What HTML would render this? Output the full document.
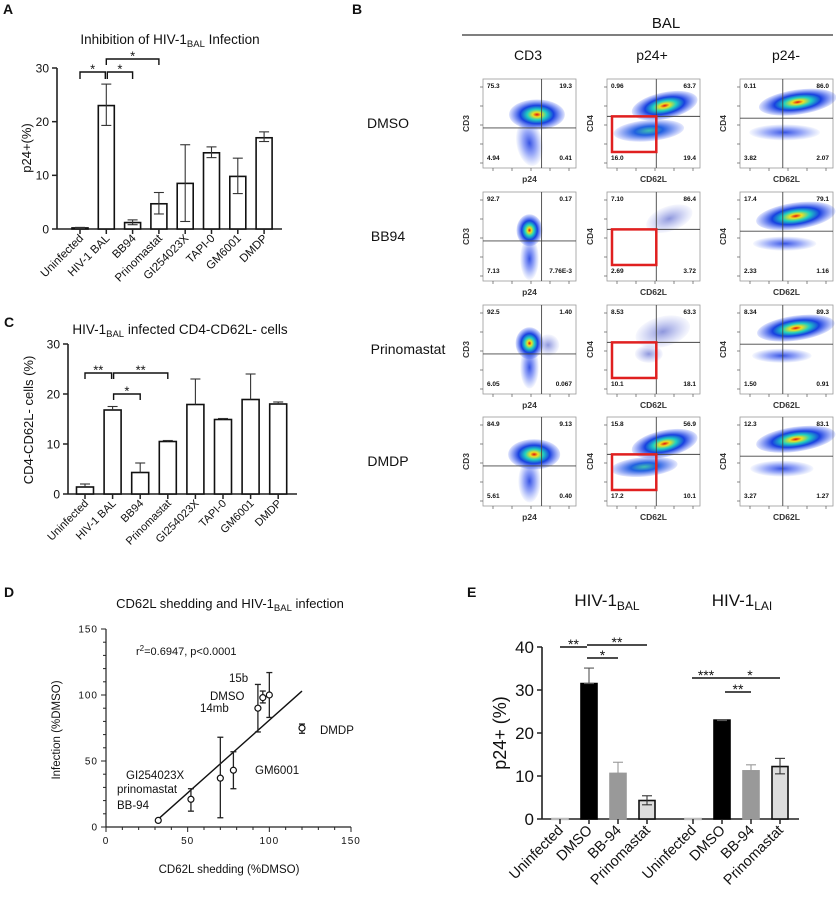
<!DOCTYPE html>
<html><head><meta charset="utf-8">
<style>
html,body{margin:0;padding:0;background:#fff;}
svg{display:block;font-family:"Liberation Sans",Arial,sans-serif;}
</style></head>
<body>
<svg id="fig" width="836" height="905" viewBox="0 0 836 905" xmlns="http://www.w3.org/2000/svg">
<defs>
<radialGradient id="hot"><stop offset="0" stop-color="#e01010"/><stop offset="0.15" stop-color="#f0e020"/><stop offset="0.35" stop-color="#20d0c0"/><stop offset="0.6" stop-color="#1840e0"/><stop offset="1" stop-color="#3050f0" stop-opacity="0.15"/></radialGradient>
<radialGradient id="warm"><stop offset="0" stop-color="#40c0b0"/><stop offset="0.4" stop-color="#2060e0"/><stop offset="1" stop-color="#3050f0" stop-opacity="0.12"/></radialGradient>
<radialGradient id="cool"><stop offset="0" stop-color="#2040e0" stop-opacity="0.9"/><stop offset="0.5" stop-color="#3050f0" stop-opacity="0.5"/><stop offset="1" stop-color="#5070f0" stop-opacity="0.05"/></radialGradient>
<radialGradient id="sparse"><stop offset="0" stop-color="#3040c0" stop-opacity="0.55"/><stop offset="1" stop-color="#6070e0" stop-opacity="0.05"/></radialGradient>
</defs>
<g id="root"></g>
</svg>
<script>
// ---------- Panel A data ----------
const catsA = ["Uninfected","HIV-1 BAL","BB94","Prinomastat","GI254023X","TAPI-0","GM6001","DMDP"];
const valsA = [0.2, 23, 1.2, 4.7, 8.5, 14.2, 9.8, 17];
const errLoA = [0.1, 19.3, 0.8, 2.8, 1.4, 13.3, 6.6, 16.3];
const errHiA = [0.3, 27, 1.7, 6.8, 15.7, 15.3, 13.2, 18.1];
const ticksA = [0, 10, 20, 30];
// ---------- Panel C data ----------
const catsC = ["Uninfected","HIV-1 BAL","BB94","Prinomastat","GI254023X","TAPI-0","GM6001","DMDP"];
const valsC = [1.4, 16.8, 4.3, 10.5, 17.9, 14.9, 18.9, 18.0];
const errHiC = [2.0, 17.5, 6.2, 10.7, 23.0, 15.1, 24.0, 18.4];
const ticksC = [0, 10, 20, 30];
// ---------- Panel D data ----------
const xD = [32, 52, 70, 78, 93, 96, 100, 120];
const yD = [5, 21, 37, 43, 90, 98, 100, 75];
const yLoD = [5, 12, 7, 29, 72, 94, 83, 71];
const yHiD = [5, 29, 68, 57, 108, 103, 117, 78];
const fitD = [[32, 6], [120, 103]];
const ticksD = [0, 50, 100, 150];
// ---------- Panel E data ----------
const catsE = ["Uninfected","DMSO","BB-94","Prinomastat","Uninfected","DMSO","BB-94","Prinomastat"];
const valsE = [0.1, 31.5, 10.6, 4.3, 0.1, 23.0, 11.2, 12.2];
const errLoE = [0.1, 31.5, 10.6, 3.3, 0.1, 22.9, 11.2, 10.5];
const errHiE = [0.1, 35.1, 13.2, 5.4, 0.1, 23.1, 12.6, 14.1];
const ticksE = [0, 10, 20, 30, 40];
// ---------- Panel B quadrant values ----------
const flowQ = [
 [["75.3","19.3","4.94","0.41"],["0.96","63.7","16.0","19.4"],["0.11","86.0","3.82","2.07"]],
 [["92.7","0.17","7.13","7.76E-3"],["7.10","86.4","2.69","3.72"],["17.4","79.1","2.33","1.16"]],
 [["92.5","1.40","6.05","0.067"],["8.53","63.3","10.1","18.1"],["8.34","89.3","1.50","0.91"]],
 [["84.9","9.13","5.61","0.40"],["15.8","56.9","17.2","10.1"],["12.3","83.1","3.27","1.27"]]
];
const rowNames = ["DMSO","BB94","Prinomastat","DMDP"];

const NS = "http://www.w3.org/2000/svg";
const root = document.getElementById("root");
function el(tag, attrs, parent, txt) {
  const e = document.createElementNS(NS, tag);
  for (const k in attrs) e.setAttribute(k, attrs[k]);
  if (txt !== undefined) e.textContent = txt;
  (parent || root).appendChild(e);
  return e;
}
function line(x1,y1,x2,y2,p,w,c){return el("line",{x1,y1,x2,y2,stroke:c||"#222","stroke-width":w||1.3},p);}
function txt(x,y,s,p,size,anchor,extra){const t=el("text",Object.assign({x,y,"font-size":size||12,"text-anchor":anchor||"middle",fill:"#111"},extra||{}),p,s);return t;}

[["A",3,14],["B",352,14],["C",4,327],["D",4,597],["E",467,597]].forEach(([s,x,y])=>{
  const t=txt(x,y,s,root,14,"start",{"font-weight":"bold"});
  
  
});

function barPanel(name, o) {
  const g = el("g", {}, root);
  
  
  const ys = v => o.y0 - v / o.ymax * (o.y0 - o.yTop);
  const xs = i => o.x1st + i * o.step + (o.gapAt !== undefined && i >= o.gapAt ? o.gap : 0);
  const ax = line(o.ax, o.yTop, o.ax, o.y0, g, 1.6);
   
  const bx = line(o.ax, o.y0, o.axEnd, o.y0, g, 1.6);
   
  o.ticks.forEach(t => {
    line(o.ax - 5, ys(t), o.ax, ys(t), g, 1.5);
    const tl = txt(o.ax - 8, ys(t) + o.tickSize * 0.36, String(t), g, o.tickSize, "end");
     
  });
  o.cats.forEach((c, i) => {
    const cx = xs(i), v = o.vals[i];
    const r = el("rect", {x: cx - o.bw/2, y: ys(v), width: o.bw, height: Math.max(0.8, o.y0 - ys(v)), fill: o.fills ? o.fills[i] : "#fff", stroke: o.strokes ? o.strokes[i] : "#111", "stroke-width": 1.6}, g);
    
    
    line(cx, o.y0, cx, o.y0 + 5, g, 1.5);
    const ec = o.errColor ? o.errColor[i] : "#333";
    const hi = o.hi[i], lo = o.lo ? o.lo[i] : v;
    if (hi - lo > 0.05) {
      line(cx, ys(hi), cx, ys(lo), g, 1.1, ec);
      line(cx - 5, ys(hi), cx + 5, ys(hi), g, 1.1, ec);
      if (o.lo) line(cx - 5, ys(lo), cx + 5, ys(lo), g, 1.1, ec);
    }
    const lb = txt(cx + 4, o.y0 + o.labOff, c, g, o.labSize, "end", {transform: `rotate(-45 ${cx + 4} ${o.y0 + o.labOff})`});
     
  });
  return {g, xs, ys};
}
function bracket(g, x1, x2, y, s, drop, size, flat) {
  const p = el("path", {d: flat ? `M${x1},${y} L${x2},${y}` : `M${x1},${y+drop} L${x1},${y} L${x2},${y} L${x2},${y+drop}`, fill: "none", stroke: "#111", "stroke-width": 1.4}, g);
   
  const t = txt((x1 + x2) / 2, y - 3 + size*0.35, s, g, size);
   
}

// ---------- Panel A ----------
const A = barPanel("panel-a-chart", {cats: catsA, vals: valsA, lo: errLoA, hi: errHiA, ticks: ticksA, ymax: 30,
  y0: 229, yTop: 68, ax: 57, axEnd: 282, x1st: 80, step: 26.3, bw: 16, tickSize: 12, labSize: 11.5, labOff: 10});
const tA = txt(170, 44, "", A.g, 13.5);
tA.innerHTML = 'Inhibition of HIV-1<tspan font-size="9.5" dy="3">BAL</tspan><tspan dy="-3"> Infection</tspan>';
 
const yA = txt(31, 148, "p24+(%)", A.g, 13, "middle", {transform: "rotate(-90 31 148)"});
 
bracket(A.g, A.xs(0), A.xs(1) - 1, 72, "*", 7, 13);
bracket(A.g, A.xs(1) + 1, A.xs(2), 72, "*", 7, 13);
bracket(A.g, A.xs(1), A.xs(3), 59, "*", 6, 13);

// ---------- Panel C ----------
const C = barPanel("panel-c-chart", {cats: catsC, vals: valsC, hi: errHiC, ticks: ticksC, ymax: 30,
  y0: 494, yTop: 344, ax: 68, axEnd: 297, x1st: 85, step: 27.6, bw: 17, tickSize: 12, labSize: 11, labOff: 10});
const tC = txt(180, 334, "", C.g, 13.5);
tC.innerHTML = 'HIV-1<tspan font-size="9.5" dy="3">BAL</tspan><tspan dy="-3"> infected CD4-CD62L- cells</tspan>';
 
const yC = txt(33, 420, "CD4-CD62L- cells (%)", C.g, 13, "middle", {transform: "rotate(-90 33 420)"});
 
bracket(C.g, C.xs(0), C.xs(1) - 1, 373, "**", 6, 13);
bracket(C.g, C.xs(1) + 1, C.xs(3), 373, "**", 6, 13);
bracket(C.g, C.xs(1) + 1, C.xs(2), 394, "*", 6, 13);

// ---------- Panel E ----------
const fillsE = ["#fff","#000","#999","#ddd","#fff","#000","#999","#ddd"];
const strokesE = ["#bbb","#000","#999","#111","#bbb","#000","#999","#111"];
const errColE = ["#555","#555","#999","#333","#555","#555","#999","#333"];
const E = barPanel("panel-e-chart", {cats: catsE, vals: valsE, lo: errLoE, hi: errHiE, ticks: ticksE, ymax: 40,
  y0: 819, yTop: 647, ax: 542, axEnd: 799, x1st: 560, step: 29, bw: 16, gapAt: 4, gap: 17, tickSize: 17, labSize: 14.5, labOff: 12,
  fills: fillsE, strokes: strokesE, errColor: errColE});
const tE1 = txt(607, 606, "", E.g, 17);
tE1.innerHTML = 'HIV-1<tspan font-size="12" dy="4">BAL</tspan>';
 
const tE2 = txt(742, 606, "", E.g, 17);
tE2.innerHTML = 'HIV-1<tspan font-size="12" dy="4">LAI</tspan>';
 
const yE = txt(506, 733, "p24+ (%)", E.g, 18, "middle", {transform: "rotate(-90 506 733)"});
 
bracket(E.g, E.xs(0), E.xs(1) - 2, 647, "**", 0, 14, true);
bracket(E.g, E.xs(1) - 2, E.xs(3), 645, "**", 0, 14, true);
bracket(E.g, E.xs(1) - 2, E.xs(2), 658, "*", 0, 14, true);
bracket(E.g, E.xs(4) - 1, E.xs(5) - 2, 678, "***", 0, 14, true);
bracket(E.g, E.xs(5) - 2, E.xs(7), 678, "*", 0, 14, true);
bracket(E.g, E.xs(5) + 3, E.xs(6), 692, "**", 0, 14, true);

// ---------- Panel D ----------
(function(){
  const g = el("g", {}, root);
   
  const x0 = 106, x1 = 351, y0 = 827, y1 = 629;
  const xs = v => x0 + v / 150 * (x1 - x0);
  const ys = v => y0 - v / 150 * (y0 - y1);
  line(x0, y1, x0, y0, g, 1.2); line(x0, y0, x1, y0, g, 1.2);
  for (let v = 0; v <= 150; v += 10) {
    const major = v % 50 === 0;
    line(x0 - (major ? 5 : 3), ys(v), x0, ys(v), g, 1);
    line(xs(v), y0, xs(v), y0 + (major ? 5 : 3), g, 1);
  }
  ticksD.forEach(t => {
    const a = txt(x0 - 8, ys(t) + 3.5, String(t), g, 10, "end", {"letter-spacing": "1"});
     
    const b = txt(xs(t), y0 + 17, String(t), g, 10, "middle", {"letter-spacing": "1"});
     
  });
  const fl = line(xs(fitD[0][0]), ys(fitD[0][1]), xs(fitD[1][0]), ys(fitD[1][1]), g, 1.4, "#111");
   
  xD.forEach((xv, i) => {
    const cx = xs(xv);
    if (yHiD[i] - yLoD[i] > 0.5) {
      line(cx, ys(yHiD[i]), cx, ys(yLoD[i]), g, 1.3);
      line(cx - 3, ys(yHiD[i]), cx + 3, ys(yHiD[i]), g, 1.3);
      line(cx - 3, ys(yLoD[i]), cx + 3, ys(yLoD[i]), g, 1.3);
    }
    const c = el("circle", {cx, cy: ys(yD[i]), r: 3, fill: "#fff", stroke: "#111", "stroke-width": 1.2}, g);
     
  });
  const t = txt(230, 608, "", g, 13);
  t.innerHTML = 'CD62L shedding and HIV-1<tspan font-size="9.5" dy="3">BAL</tspan><tspan dy="-3"> infection</tspan>';
   
  const r2 = txt(136, 655, "", g, 11, "start");
  r2.innerHTML = 'r<tspan font-size="8" dy="-4">2</tspan><tspan dy="4">=0.6947, p&lt;0.0001</tspan>';
   
  [["15b",229,682],["DMSO",210,700],["14mb",200,712],["DMDP",320,734],["GM6001",255,774],["GI254023X",126,779],["prinomastat",117,793],["BB-94",117,809]].forEach(([s,x,y])=>{
    const a = txt(x, y, s, g, 11.5, "start");
     
  });
  const xt = txt(229, 873, "CD62L shedding (%DMSO)", g, 11.5);
   
  const yt = txt(60, 730, "Infection (%DMSO)", g, 11.5, "middle", {transform: "rotate(-90 60 730)"});
   
})();

// ---------- Panel B flow plots ----------
(function(){
  const g = el("g", {}, root);
   
  const h = txt(666, 28, "BAL", g, 15);
   
  line(462, 35, 833, 35, g, 1.3, "#333");
  const colX = [483, 607, 740], W = 93, H = 89;
  const rowY = [79, 192, 305, 417];
  [["CD3",528],["p24+",652],["p24-",786]].forEach(([s,x])=>{
    const t = txt(x, 60, s, g, 14);
     
  });
  const qx = [0.63, 0.53, 0.46], qy = [0.55, 0.42, 0.44];
  const blobs = [
    [[[0.5,0.72,0.14,0.26,-10,"cool"],[0.58,0.4,0.3,0.17,0,"hot"]],
     [[0.45,0.58,0.38,0.12,-5,"warm"],[0.62,0.3,0.36,0.15,-12,"hot"]],
     [[0.48,0.6,0.38,0.09,0,"cool"],[0.62,0.26,0.42,0.14,-8,"hot"]]],
    [[[0.5,0.75,0.1,0.24,0,"cool"],[0.5,0.43,0.14,0.18,0,"hot"]],
     [[0.67,0.3,0.26,0.14,-20,"sparse"]],
     [[0.48,0.58,0.34,0.08,0,"cool"],[0.6,0.27,0.43,0.15,-8,"hot"]]],
    [[[0.5,0.7,0.1,0.24,0,"cool"],[0.5,0.43,0.15,0.18,0,"hot"],[0.7,0.45,0.12,0.12,0,"sparse"]],
     [[0.6,0.3,0.3,0.17,-15,"sparse"],[0.45,0.55,0.15,0.1,0,"sparse"]],
     [[0.45,0.57,0.32,0.08,0,"cool"],[0.6,0.26,0.42,0.14,-8,"hot"]]],
    [[[0.5,0.72,0.12,0.24,0,"cool"],[0.55,0.42,0.28,0.17,0,"hot"]],
     [[0.4,0.56,0.36,0.11,-5,"warm"],[0.62,0.3,0.36,0.15,-12,"hot"]],
     [[0.45,0.58,0.34,0.09,0,"cool"],[0.6,0.25,0.43,0.14,-8,"hot"]]]
  ];
  const xl = ["p24","CD62L","CD62L"], yl = ["CD3","CD4","CD4"];
  rowY.forEach((ry, r) => {
    const rn = txt(r === 2 ? 408 : 388, ry + 49, rowNames[r], g, 14, "middle");
     
    colX.forEach((cx, c) => {
      const pg = el("g", {}, g);
      
      
      el("rect", {x: cx, y: ry, width: W, height: H, fill: "#fff", stroke: "#999", "stroke-width": 0.8}, pg);
      blobs[r][c].forEach(([bx, by, rx, rY, rot, gr]) => {
        const X = cx + bx * W, Y = ry + by * H;
        el("ellipse", {cx: X, cy: Y, rx: rx * W, ry: rY * H, fill: `url(#${gr})`, transform: `rotate(${rot} ${X} ${Y})`}, pg);
      });
      line(cx + qx[c] * W, ry, cx + qx[c] * W, ry + H, pg, 0.9, "#444");
      line(cx, ry + qy[c] * H, cx + W, ry + qy[c] * H, pg, 0.9, "#444");
      const q = flowQ[r][c];
      txt(cx + 4, ry + 9, q[0], pg, 6.5, "start", {"font-weight": "bold"});
      txt(cx + W - 4, ry + 9, q[1], pg, 6.5, "end", {"font-weight": "bold"});
      txt(cx + 4, ry + H - 8, q[2], pg, 6.5, "start", {"font-weight": "bold"});
      txt(cx + W - 4, ry + H - 8, q[3], pg, 6.5, "end", {"font-weight": "bold"});
      for (let k = 0; k < 5; k++) {
        line(cx + 10 + k * 19, ry + H, cx + 10 + k * 19, ry + H + 3, pg, 0.7, "#555");
        line(cx - 3, ry + 8 + k * 19, cx, ry + 8 + k * 19, pg, 0.7, "#555");
      }
      const a = txt(cx + W / 2, ry + H + 14, xl[c], pg, 8.5, "middle", {"font-weight": "bold", fill: "#333"});
       
      const b = txt(cx - 14, ry + H / 2, yl[c], pg, 8.5, "middle", {"font-weight": "bold", fill: "#333", transform: `rotate(-90 ${cx - 14} ${ry + H / 2})`});
       
      if (c === 1) {
        const rb = el("rect", {x: cx + 5, y: ry + qy[c] * H, width: qx[c] * W - 5, height: 0.4 * H, fill: "none", stroke: "#e02020", "stroke-width": 2.5}, pg);
         
      }
    });
  });
})();
</script>
</body></html>
